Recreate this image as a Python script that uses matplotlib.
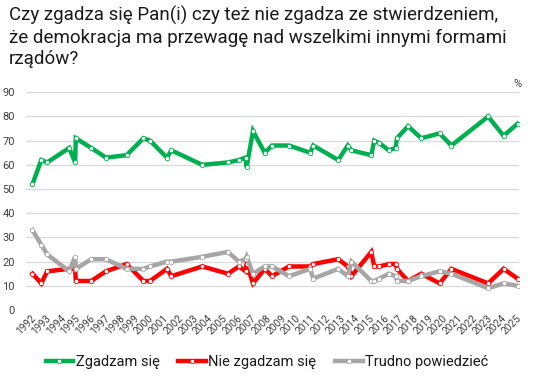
import matplotlib
matplotlib.use("Agg")
import matplotlib.pyplot as plt

plt.rcParams['font.family'] = ['Roboto', 'DejaVu Sans']

# survey dates (fractional years)
survey_dates = [1992.1, 1992.7, 1993.1, 1994.6, 1995.0, 1995.05, 1996.1, 1997.1, 1998.5, 1999.65,
                2000.1, 2001.25, 2001.55, 2003.65, 2005.4, 2006.15, 2006.6, 2006.67, 2007.1, 2007.9,
                2008.4, 2009.55, 2011.0, 2011.2, 2012.9, 2013.55, 2013.8, 2015.15, 2015.35, 2015.7,
                2016.35, 2016.8, 2016.9, 2017.65, 2018.55, 2019.8, 2020.6, 2023.1, 2024.15, 2025.1]
zgadzam = [52, 62, 61, 67, 61, 71, 67, 63, 64, 71, 70, 63, 66, 60, 61, 62, 63, 59, 74, 65,
           68, 68, 65, 68, 62, 68, 66, 64, 70, 69, 66, 67, 71, 76, 71, 73, 68, 80, 72, 77]
nie_zgadzam = [15, 11, 16, 17, 17, 12, 12, 16, 19, 12, 12, 17, 14, 18, 15, 18, 16, 19, 11, 17,
               14, 18, 18, 19, 21, 18, 14, 24, 18, 18, 19, 19, 17, 12, 15, 11, 17, 11, 17, 13]
trudno = [33, 27, 23, 16, 22, 17, 21, 21, 17, 17, 18, 20, 20, 22, 24, 20, 21, 22, 15, 18,
          18, 14, 17, 13, 17, 14, 20, 12, 12, 13, 15, 14, 12, 12, 14, 16, 15, 9, 11, 10]
year_ticks = list(range(1992, 2026))
series_names = ["Zgadzam się", "Nie zgadzam się", "Trudno powiedzieć"]
colors = ["#00b050", "#ff0000", "#a6a6a6"]

title = "Czy zgadza się Pan(i) czy też nie zgadza ze stwierdzeniem,\nże demokracja ma przewagę nad wszelkimi innymi formami\nrządów?"

fig = plt.figure(figsize=(5.34, 3.78), dpi=100)
ax = fig.add_axes([26/534, 68/378, (519-26)/534, (310-92.3)/378])

for vals, name, c in zip([zgadzam, nie_zgadzam, trudno], series_names, colors):
    ax.plot(survey_dates, vals, color=c, lw=3.2, marker='o', markersize=3.2,
            markerfacecolor='white', markeredgecolor=c, markeredgewidth=0.6,
            label=name, solid_joinstyle='miter')

ax.set_ylim(0, 90)
ax.set_yticks(range(0, 91, 10))
ax.set_xlim(1991.66, 2025.2)
ax.set_xticks(year_ticks)
ax.set_xticklabels([str(y) for y in year_ticks], rotation=45, ha='right',
                   rotation_mode='anchor', fontsize=7.3, color='#404040')
ax.tick_params(axis='y', labelsize=8, colors='#404040', length=0, pad=8)
ax.tick_params(axis='x', length=0, pad=2)
ax.grid(axis='y', color='#d9d9d9', lw=0.9)
ax.set_axisbelow(True)
for s in ax.spines.values():
    s.set_visible(False)

fig.text(9/534, 1-6/378, title, ha='left', va='top', fontsize=13.5,
         color='#1a1a1a', linespacing=1.25)
fig.text(517/534, 1-84/378, "%", ha='center', va='center', fontsize=8, color='#404040')

fig.legend(loc='center', bbox_to_anchor=(0.5, 1-362/378), ncol=3, frameon=False,
           fontsize=10.5, handlelength=1.9, handletextpad=0.15, columnspacing=1.3,
           labelcolor='#1a1a1a')

fig.savefig("out.png", dpi=100)
